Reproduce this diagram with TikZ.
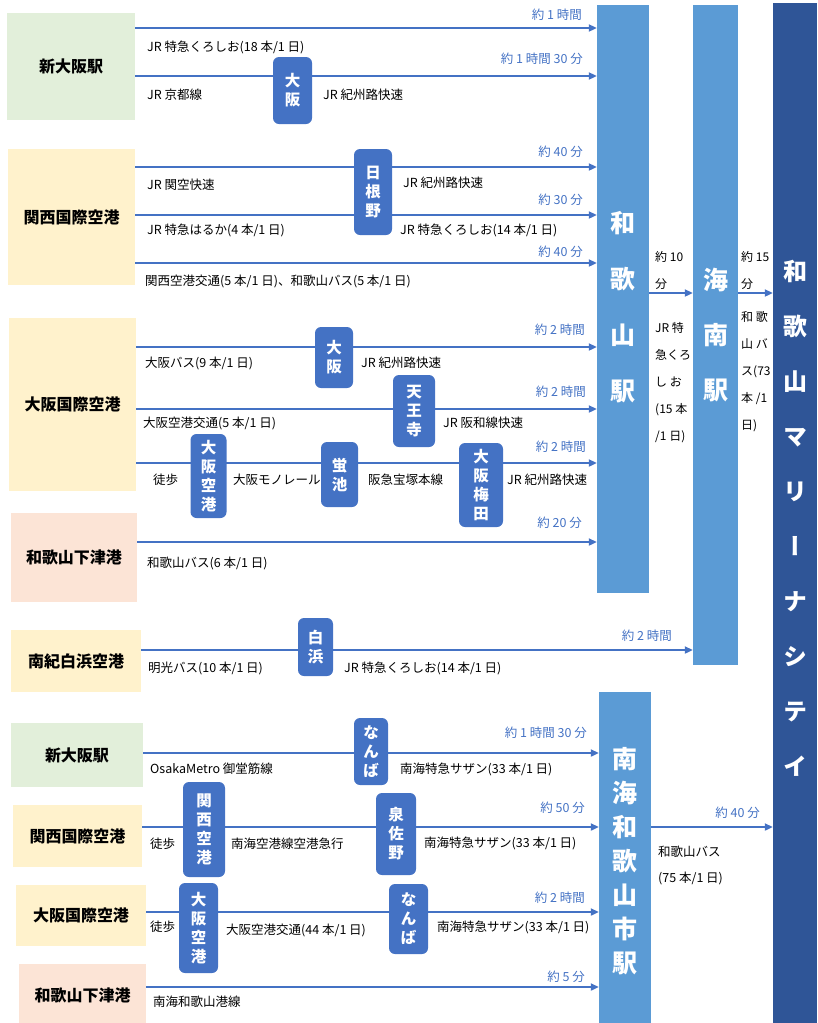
\documentclass[tikz,border=0pt]{standalone}
\usepackage{fontspec}
\setmainfont{Noto Sans CJK JP}
\newfontfamily\vertfont[RawFeature=+vert]{Noto Sans CJK JP}
\usetikzlibrary{arrows.meta}
\definecolor{lineblue}{HTML}{4472C4}
\definecolor{barblue}{HTML}{5B9BD5}
\definecolor{darkbar}{HTML}{2F5597}
\definecolor{boxgreen}{HTML}{E2EFDA}
\definecolor{boxyellow}{HTML}{FFF2CC}
\definecolor{boxpeach}{HTML}{FCE4D6}
\newcommand{\rtfont}{\fontsize{12.5}{14}\selectfont}
\newcommand{\stfont}{\bfseries\fontsize{15.5}{19}\selectfont}
\newcommand{\orfont}{\bfseries\fontsize{16}{18}\selectfont}
\tikzset{
  origin/.style={fill=#1, font=\orfont, inner sep=0pt},
  stn/.style={fill=lineblue, text=white, rounded corners=6pt, inner sep=0pt, align=center, font=\stfont},
  bar/.style={fill=#1, text=white, inner sep=0pt, align=center},
  route/.style={draw=lineblue, line width=2pt},
  arr/.style={route, -{Triangle[length=8pt,width=7pt]}},
  rt/.style={font=\rtfont, anchor=west, inner sep=0pt},
  tm/.style={font=\rtfont, text=lineblue, anchor=east, inner sep=0pt},
  col/.style={font=\fontsize{12}{27}\selectfont, anchor=west, align=left, inner sep=0pt}
}
\begin{document}
\begin{tikzpicture}[x=1pt,y=-1pt]
   \useasboundingbox (0,0) rectangle (817,1023);
   \node[bar=barblue, minimum width=52, minimum height=588] (wk) at (623,299) {};
   \node[bar=barblue, font=\bfseries\fontsize{25}{56}\selectfont] (wkname) at (623,307) {和\\歌\\山\\駅};
   \node[bar=barblue, minimum width=45, minimum height=660, font=\bfseries\fontsize{25}{55}\selectfont] (kn) at (715.5,335) {海\\南\\駅};
   \node[bar=darkbar, minimum width=44, minimum height=1030, font=\vertfont\bfseries\fontsize{24}{55}\selectfont] (mc) at (795,518) {和\\歌\\山\\マ\\リ\\ー\\ナ\\シ\\テ\\イ};
   \node[bar=barblue, minimum width=52, minimum height=338, font=\bfseries\fontsize{25}{34}\selectfont] (nw) at (625,861) {南\\海\\和\\歌\\山\\市\\駅};

   \node[origin=boxgreen, minimum width=128, minimum height=107] (o1) at (71,66.5) {新大阪駅};
   \node[origin=boxyellow, minimum width=127, minimum height=136] (o2) at (71.5,217) {関西国際空港};
   \node[origin=boxyellow, minimum width=127, minimum height=173] (o3) at (72.5,404.5) {大阪国際空港};
   \node[origin=boxpeach, minimum width=126, minimum height=89] (o4) at (74,557.5) {和歌山下津港};
   \node[origin=boxyellow, minimum width=130, minimum height=62] (o5) at (76,661) {南紀白浜空港};
   \node[origin=boxgreen, minimum width=132, minimum height=64] (o6) at (77,755) {新大阪駅};
   \node[origin=boxyellow, minimum width=129, minimum height=62] (o7) at (77.5,836) {関西国際空港};
   \node[origin=boxyellow, minimum width=130, minimum height=61] (o8) at (81,915.5) {大阪国際空港};
   \node[origin=boxpeach, minimum width=127, minimum height=62] (o9) at (82.5,995) {和歌山下津港};

   \coordinate (r1) at (o1.east |- 0,28);
   \coordinate (r2) at (o1.east |- 0,76);
   \coordinate (r3) at (o2.east |- 0,167);
   \coordinate (r4) at (o2.east |- 0,215);
   \coordinate (r5) at (o2.east |- 0,263);
   \coordinate (r6) at (o3.east |- 0,347);
   \coordinate (r7) at (o3.east |- 0,409);
   \coordinate (r8) at (o3.east |- 0,463);
   \coordinate (r9) at (o4.east |- 0,542);
   \coordinate (r10) at (o5.east |- 0,650);
   \coordinate (r11) at (o6.east |- 0,753);
   \coordinate (r12) at (o7.east |- 0,827);
   \coordinate (r13) at (o8.east |- 0,912);
   \coordinate (r14) at (o9.east |- 0,987);
   \coordinate (t1) at (wk.east |- 0,293);
   \coordinate (t2) at (kn.east |- 0,293);
   \coordinate (t3) at (nw.east |- 0,827);

   \draw[arr] (r1) -- (r1 -| wk.west);
   \draw[arr] (r2) -- (r2 -| wk.west);
   \draw[arr] (r3) -- (r3 -| wk.west);
   \draw[arr] (r4) -- (r4 -| wk.west);
   \draw[arr] (r5) -- (r5 -| wk.west);
   \draw[arr] (r6) -- (r6 -| wk.west);
   \draw[arr] (r7) -- (r7 -| wk.west);
   \draw[arr] (r8) -- (r8 -| wk.west);
   \draw[arr] (r9) -- (r9 -| wk.west);
   \draw[arr] (r10) -- (r10 -| kn.west);
   \draw[arr] (r11) -- (r11 -| nw.west);
   \draw[arr] (r12) -- (r12 -| nw.west);
   \draw[arr] (r13) -- (r13 -| nw.west);
   \draw[arr] (r14) -- (r14 -| nw.west);
   \draw[arr] (t1) -- (t1 -| kn.west);
   \draw[arr] (t2) -- (t2 -| mc.west);
   \draw[arr] (t3) -- (t3 -| mc.west);

   \node[stn, minimum width=39, minimum height=67] (s1) at (292.5,90.5) {大\\阪};
   \node[stn, minimum width=38, minimum height=86] (s2) at (373,192) {日\\根\\野};
   \node[stn, minimum width=38, minimum height=61] (s3) at (334,357.5) {大\\阪};
   \node[stn, minimum width=42, minimum height=72] (s4) at (414,411) {天\\王\\寺};
   \node[stn, minimum width=36, minimum height=84] (s5) at (208.5,476) {大\\阪\\空\\港};
   \node[stn, minimum width=37, minimum height=65] (s6) at (339.5,474.5) {蛍\\池};
   \node[stn, minimum width=44, minimum height=84] (s7) at (481,485) {大\\阪\\梅\\田};
   \node[stn, minimum width=35, minimum height=58] (s8) at (315.5,647) {白\\浜};
   \node[stn, minimum width=34, minimum height=67] (s9) at (371,751.5) {な\\ん\\ば};
   \node[stn, minimum width=42, minimum height=95] (s10) at (204,829.5) {関\\西\\空\\港};
   \node[stn, minimum width=40, minimum height=82] (s11) at (396,834) {泉\\佐\\野};
   \node[stn, minimum width=39, minimum height=90] (s12) at (198.5,928) {大\\阪\\空\\港};
   \node[stn, minimum width=39, minimum height=70] (s13) at (408.5,919) {な\\ん\\ば};

   \node[rt] at (147,47) {JR 特急くろしお(18 本/1 日)};
   \node[rt] at (147,95) {JR 京都線};
   \node[rt] at (323,95) {JR 紀州路快速};
   \node[rt] at (147,185) {JR 関空快速};
   \node[rt] at (403,183) {JR 紀州路快速};
   \node[rt] at (147,230) {JR 特急はるか(4 本/1 日)};
   \node[rt] at (400,230) {JR 特急くろしお(14 本/1 日)};
   \node[rt] at (145,281) {関西空港交通(5 本/1 日)、和歌山バス(5 本/1 日)};
   \node[rt] at (145,363) {大阪バス(9 本/1 日)};
   \node[rt] at (361,363) {JR 紀州路快速};
   \node[rt] at (143,423) {大阪空港交通(5 本/1 日)};
   \node[rt] at (443,423) {JR 阪和線快速};
   \node[rt] at (153,480) {徒歩};
   \node[rt] at (233,480) {大阪モノレール};
   \node[rt] at (368,480) {阪急宝塚本線};
   \node[rt] at (507,480) {JR 紀州路快速};
   \node[rt] at (147,563) {和歌山バス(6 本/1 日)};
   \node[rt] at (148,668) {明光バス(10 本/1 日)};
   \node[rt] at (344,668) {JR 特急くろしお(14 本/1 日)};
   \node[rt] at (150,769) {OsakaMetro 御堂筋線};
   \node[rt] at (400,769) {南海特急サザン(33 本/1 日)};
   \node[rt] at (150,844) {徒歩};
   \node[rt] at (231,844) {南海空港線空港急行};
   \node[rt] at (424,843) {南海特急サザン(33 本/1 日)};
   \node[rt] at (150,927) {徒歩};
   \node[rt] at (226,930) {大阪空港交通(44 本/1 日)};
   \node[rt] at (437,927) {南海特急サザン(33 本/1 日)};
   \node[rt] at (153,1002) {南海和歌山港線};
   \node[rt] at (658,852) {和歌山バス};
   \node[rt] at (658,878) {(75 本/1 日)};
   \node[col] at (655,270.5) {約 10\\分};
   \node[col] at (655,383) {JR 特\\急くろ\\し お\\(15 本\\/1 日)};
   \node[col] at (741,270) {約 15\\分};
   \node[col] at (741,371.5) {和 歌\\山 バ\\ス(73\\本 /1\\日)};

   \node[tm] at (582,15) {約 1 時間};
   \node[tm] at (583,59) {約 1 時間 30 分};
   \node[tm] at (583,152) {約 40 分};
   \node[tm] at (583,200) {約 30 分};
   \node[tm] at (583,252) {約 40 分};
   \node[tm] at (585,330) {約 2 時間};
   \node[tm] at (586,392) {約 2 時間};
   \node[tm] at (586,447) {約 2 時間};
   \node[tm] at (582,523) {約 20 分};
   \node[tm] at (672,636) {約 2 時間};
   \node[tm] at (587,733) {約 1 時間 30 分};
   \node[tm] at (585,808) {約 50 分};
   \node[tm] at (585,898) {約 2 時間};
   \node[tm] at (585,977) {約 5 分};
   \node[tm] at (760,813) {約 40 分};
\end{tikzpicture}
\end{document}
